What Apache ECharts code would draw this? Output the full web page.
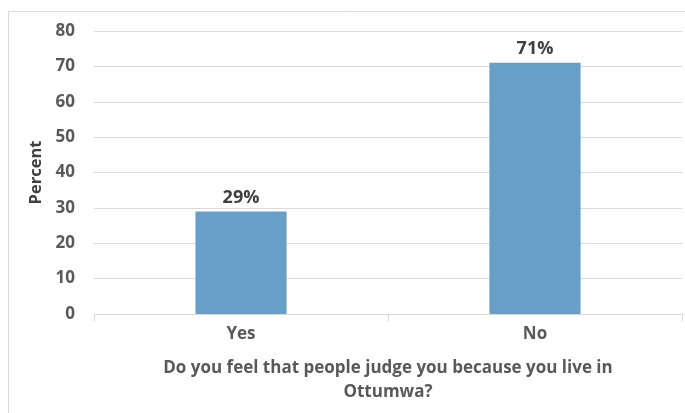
<!DOCTYPE html>
<html><head><meta charset="utf-8">
<script src="https://cdn.jsdelivr.net/npm/echarts@6/dist/echarts.min.js"></script>
<style>html,body{margin:0;padding:0;background:#fff}#c{width:685px;height:413px}</style>
</head><body><div id="c"></div>
<script>
const categories = ['Yes', 'No'];
const values = [29, 71];
const yTicks = [0, 10, 20, 30, 40, 50, 60, 70, 80];
const yName = 'Percent';
const xName = 'Do you feel that people judge you because you live in\nOttumwa?';

const chart = echarts.init(document.getElementById('c'));
const font = '"Open Sans", sans-serif';
chart.setOption({
  animation: false,
  graphic: [{type:'rect', shape:{x:8.5,y:11.5,width:700,height:420}, style:{fill:'none', stroke:'#d9d9d9', lineWidth:1}, silent:true}],
  grid: {left: 94, right: 3, top: 31, bottom: 99},
  xAxis: {
    type: 'category', data: categories,
    axisLine: {lineStyle: {color: '#d9d9d9'}},
    axisTick: {show: true, length: 7, lineStyle: {color: '#d9d9d9'}},
    axisLabel: {color: '#595959', fontWeight: 'bold', fontSize: 17, fontFamily: font, margin: 12},
    name: xName, nameLocation: 'middle', nameGap: 42,
    nameTextStyle: {color: '#595959', fontWeight: 'bold', fontSize: 17, fontFamily: font, lineHeight: 24}
  },
  yAxis: {
    type: 'value', min: yTicks[0], max: yTicks[yTicks.length-1], interval: 10,
    axisLine: {show: false}, axisTick: {show: false},
    splitLine: {lineStyle: {color: '#d9d9d9'}},
    axisLabel: {color: '#595959', fontWeight: 'bold', fontSize: 17, fontFamily: font, margin: 19},
    name: yName, nameLocation: 'middle', nameGap: 48, nameRotate: 90,
    nameTextStyle: {color: '#404040', fontWeight: 'bold', fontSize: 16.5, fontFamily: font}
  },
  series: [{
    type: 'bar', data: values, barWidth: '31%',
    itemStyle: {color: '#66a0c9'},
    label: {show: true, position: 'top', formatter: '{c}%', color: '#404040', fontWeight: 'bold', fontSize: 18, fontFamily: font, distance: 5}
  }]
});
</script></body></html>
